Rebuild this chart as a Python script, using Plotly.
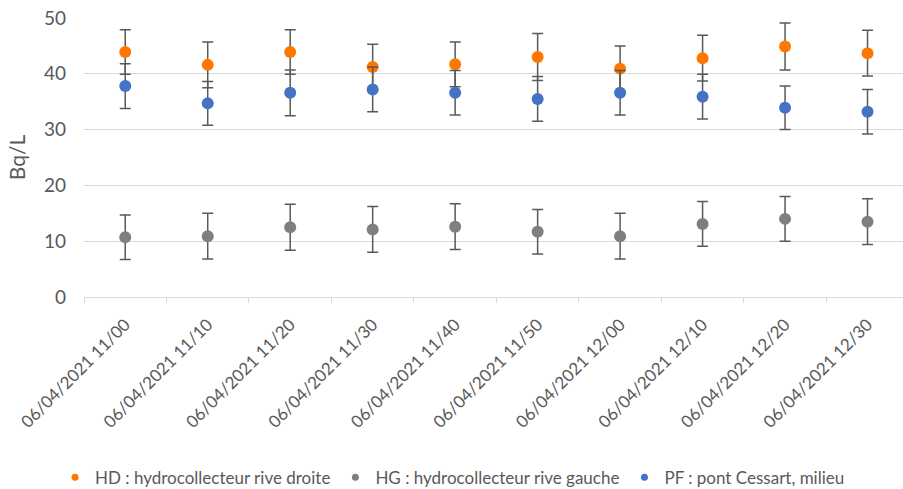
import plotly.graph_objects as go

categories = ["06/04/2021 11/00", "06/04/2021 11/10", "06/04/2021 11/20", "06/04/2021 11/30",
              "06/04/2021 11/40", "06/04/2021 11/50", "06/04/2021 12/00", "06/04/2021 12/10",
              "06/04/2021 12/20", "06/04/2021 12/30"]

hd_values = [43.9, 41.6, 43.9, 41.2, 41.7, 43.0, 40.9, 42.8, 44.9, 43.7]
hd_errors = [4.0, 4.1, 4.0, 4.1, 4.0, 4.2, 4.1, 4.1, 4.2, 4.1]
hg_values = [10.7, 10.9, 12.5, 12.1, 12.6, 11.7, 10.9, 13.1, 14.0, 13.5]
hg_errors = [4.0, 4.1, 4.1, 4.1, 4.1, 4.0, 4.1, 4.0, 4.0, 4.1]
pf_values = [37.8, 34.7, 36.6, 37.2, 36.6, 35.5, 36.6, 35.9, 33.9, 33.2]
pf_errors = [4.0, 3.9, 4.1, 4.0, 4.0, 4.0, 4.0, 4.0, 3.9, 4.0]

series = [
    ("HD : hydrocollecteur rive droite", hd_values, hd_errors, "#FF7700"),
    ("HG : hydrocollecteur rive gauche", hg_values, hg_errors, "#7F7F7F"),
    ("PF : pont Cessart, milieu", pf_values, pf_errors, "#4472C4"),
]

fig = go.Figure()
for name, vals, errs, color in series:
    fig.add_trace(go.Scatter(
        x=categories, y=vals, mode="markers", name=name, showlegend=False,
        marker=dict(color=color, size=12),
        error_y=dict(type="data", array=errs, visible=True, color="#595959",
                     thickness=1.5, width=5.5),
    ))
# legend entries with small symbols
for name, vals, errs, color in series:
    fig.add_trace(go.Scatter(
        x=[None], y=[None], mode="markers", name=name, showlegend=True,
        marker=dict(color=color, size=7),
    ))

fig.update_layout(
    width=903, height=489,
    margin=dict(l=84, r=0, t=18, b=192, autoexpand=False),
    plot_bgcolor="white", paper_bgcolor="white",
    font=dict(family="Lato, Open Sans, sans-serif", color="#595959"),
    showlegend=True,
    legend=dict(orientation="h", x=0.45, xanchor="center", y=-0.648, yanchor="middle",
                font=dict(size=17, color="#595959"),
                tracegroupgap=0, itemsizing="trace"),
)
fig.update_xaxes(
    type="category", range=[-0.5, 9.43],
    tickangle=-45, tickfont=dict(size=17, color="#595959"),
    ticklabelstandoff=10,
    ticks="outside", tickson="boundaries", ticklen=5, tickcolor="#D9D9D9",
    showline=True, linecolor="#D9D9D9", linewidth=1,
    showgrid=False, zeroline=False,
)
fig.update_yaxes(
    range=[0, 50], dtick=10,
    tickfont=dict(size=19, color="#595959"),
    ticklabelstandoff=17,
    showgrid=True, gridcolor="#D9D9D9", gridwidth=1,
    zeroline=False, showline=False, ticks="",
    title=dict(text="Bq/L", font=dict(size=21, color="#595959"), standoff=12),
)

fig.write_html("out.html", post_script="document.body.style.margin='0';",
               config={"displayModeBar": False})
